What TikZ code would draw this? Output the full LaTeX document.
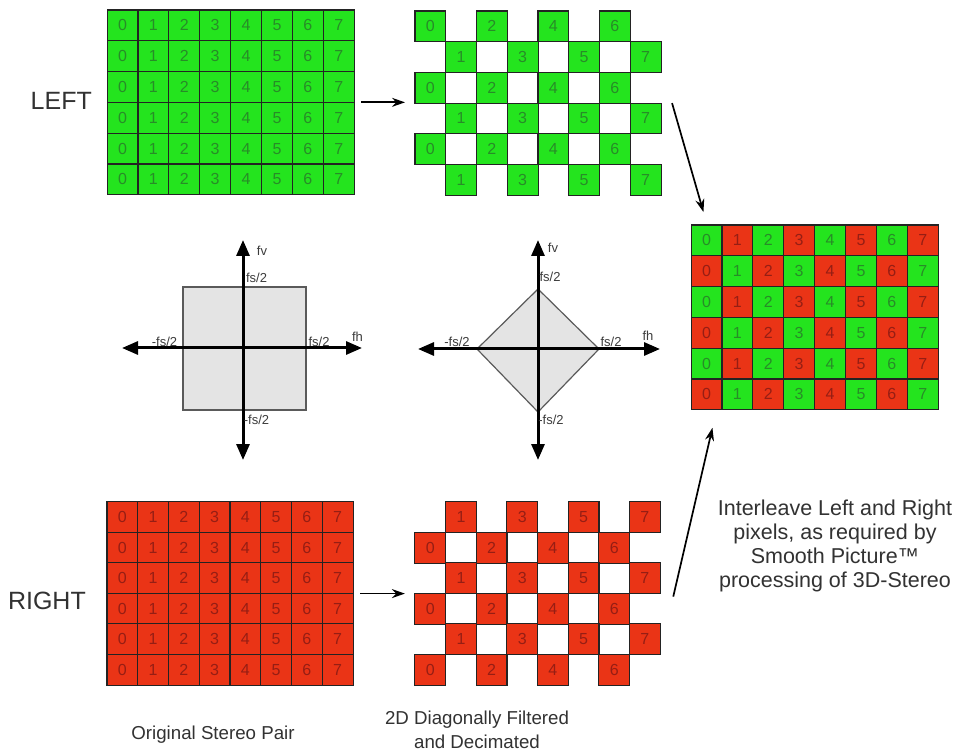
\documentclass[tikz,border=0pt]{standalone}
\usepackage{fontspec}
\setmainfont{Liberation Sans}
\usetikzlibrary{arrows.meta}
\definecolor{gfill}{RGB}{36,228,30}
\definecolor{rfill}{RGB}{234,52,22}
\definecolor{gtext}{RGB}{40,140,40}
\definecolor{rtext}{RGB}{150,30,20}
\definecolor{gridline}{RGB}{35,35,35}
\definecolor{axfill}{RGB}{228,228,228}
\definecolor{axedge}{RGB}{90,90,90}
\definecolor{labgray}{RGB}{60,60,60}
\definecolor{txt}{RGB}{50,50,50}
\begin{document}
\begin{tikzpicture}[x=1pt,y=-1pt,
 cellbase/.style={draw=gridline, line width=1.1pt, inner sep=0pt, outer sep=0pt,
   minimum width=30.8pt, minimum height=30.7pt, font=\fontsize{16}{16}\selectfont},
 gcell/.style={cellbase, fill=gfill, text=gtext},
 rcell/.style={cellbase, fill=rfill, text=rtext},
 side/.style={font=\fontsize{25}{25}\selectfont, text=txt, inner sep=0pt},
 caption/.style={font=\fontsize{18.7}{24}\selectfont, text=txt, align=center, inner sep=0pt},
 axlab/.style={font=\fontsize{13}{13}\selectfont, text=labgray, inner sep=0pt},
 axisline/.style={line width=3pt, {Triangle[length=16pt,width=13pt]}-{Triangle[length=16pt,width=13pt]}},
 flow/.style={line width=1.7pt, -{Stealth[length=13pt,width=9pt]}},
 region/.style={fill=axfill, draw=axedge, line width=1.2pt},
]
\useasboundingbox[fill=white] (0,0) rectangle (956,751);

% LEFT original
\foreach \r in {0,...,5}{\foreach \c in {0,...,7}{
  \node[gcell] (L\r\c) at ({107+30.9*\c+15.45},{10+30.8*\r+15.4}) {\c};
}}
% LEFT decimated
\foreach \r in {0,...,5}{\foreach \c in {0,...,7}{
  \pgfmathtruncatemacro\pp{mod(\r+\c,2)}
  \ifnum\pp=0 \node[gcell] (LD\r\c) at ({415+30.75*\c+15.4},{11+30.7*\r+15.35}) {\c};\fi
}}
% RIGHT original
\foreach \r in {0,...,5}{\foreach \c in {0,...,7}{
  \node[rcell] (R\r\c) at ({107+30.75*\c+15.4},{502+30.5*\r+15.25}) {\c};
}}
% RIGHT decimated
\foreach \r in {0,...,5}{\foreach \c in {0,...,7}{
  \pgfmathtruncatemacro\pp{mod(\r+\c,2)}
  \ifnum\pp=1 \node[rcell] (RD\r\c) at ({415+30.65*\c+15.3},{502+30.5*\r+15.25}) {\c};\fi
}}
% Interleaved
\foreach \r in {0,...,5}{\foreach \c in {0,...,7}{
  \pgfmathtruncatemacro\pp{mod(\r+\c,2)}
  \ifnum\pp=0
    \node[gcell] (I\r\c) at ({691+30.9*\c+15.45},{225+30.8*\r+15.4}) {\c};
  \else
    \node[rcell] (I\r\c) at ({691+30.9*\c+15.45},{225+30.8*\r+15.4}) {\c};
  \fi
}}

% side labels
\node[side, anchor=east] (leftlab) at (92,101) {LEFT};
\node[side, anchor=east] (rightlab) at (86,601) {RIGHT};

% spectrum 1 (square)
\draw[region] (183,287) rectangle (306,410);
\coordinate (a1t) at (243,240);
\coordinate (a1b) at (243,460);
\coordinate (a1l) at (122,348);
\coordinate (a1r) at (362,348);
\draw[axisline] (a1b) -- (a1t);
\draw[axisline] (a1l) -- (a1r);
\node[axlab] (fv1) at (262,251) {fv};
\node[axlab] (t1) at (256.5,278) {fs/2};
\node[axlab] (l1) at (164.5,342) {-fs/2};
\node[axlab] (r1) at (319,342) {fs/2};
\node[axlab] (fh1) at (357.5,337) {fh};
\node[axlab] (b1) at (256.5,420) {-fs/2};

% spectrum 2 (diamond)
\draw[region] (538,289) -- (599,349) -- (538,412) -- (477,349) -- cycle;
\coordinate (a2t) at (538,240);
\coordinate (a2b) at (538,460);
\coordinate (a2l) at (418,349);
\coordinate (a2r) at (660,349);
\draw[axisline] (a2b) -- (a2t);
\draw[axisline] (a2l) -- (a2r);
\node[axlab] (fv2) at (553,248) {fv};
\node[axlab] (t2) at (550,277) {fs/2};
\node[axlab] (l2) at (457,342) {-fs/2};
\node[axlab] (r2) at (611,342) {fs/2};
\node[axlab] (fh2) at (648,336) {fh};
\node[axlab] (b2) at (551,420) {-fs/2};

% flow arrows
\draw[flow] ([xshift=7pt]L27.south east) -- ([xshift=-10pt]L27.south east -| LD20.west);
\draw[flow] ([xshift=7pt]R27.south east) -- ([xshift=-10pt]R27.south east -| RD30.west);
\draw[flow] ([xshift=11pt]LD37.north east) -- ([xshift=-3pt,yshift=13pt]I00.north);
\draw[flow] ([xshift=13pt,yshift=-3pt]RD27.south east) -- ([xshift=6pt,yshift=-18pt]I50.south);

% captions
\node[caption] (cap1) at (213,735) {Original Stereo Pair};
\node[caption] (cap2) at (477,730) {2D Diagonally Filtered\\and Decimated};
\node[caption, font=\fontsize{21.5}{24}\selectfont] (note) at (835,546)
  {Interleave Left and Right\\pixels, as required by\\Smooth Picture™\\processing of 3D-Stereo};
\end{tikzpicture}
\end{document}
